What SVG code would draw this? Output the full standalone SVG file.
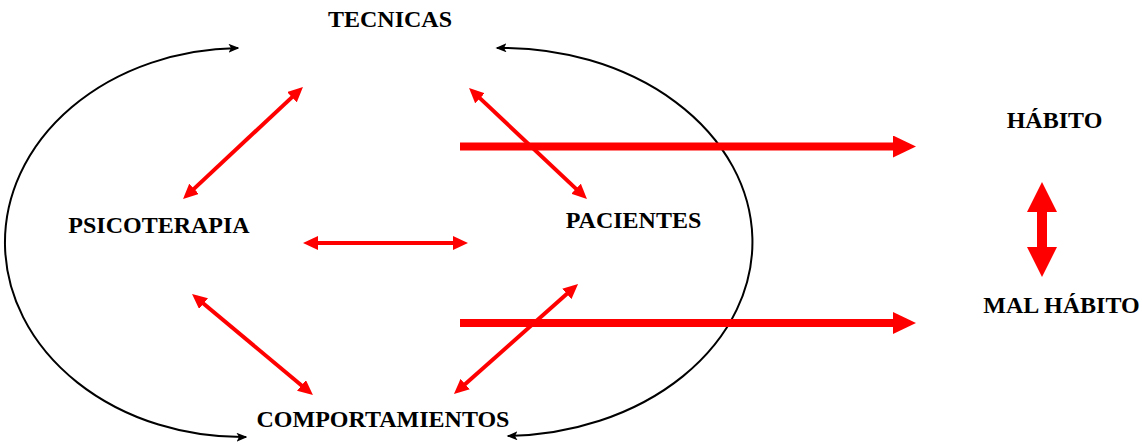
<svg xmlns="http://www.w3.org/2000/svg" width="1142" height="446" viewBox="0 0 1142 446">
<style>
.lbl{font-family:"Liberation Serif","Times New Roman",serif;font-weight:bold;font-size:24px;fill:#000;text-anchor:middle}
.thin{stroke:#ff0000;stroke-width:4;fill:none;marker-start:url(#rh);marker-end:url(#rh)}
.thick{stroke:#ff0000;stroke-width:8;fill:none;marker-end:url(#bh)}
.arc{stroke:#000;stroke-width:2;fill:none;marker-start:url(#kh);marker-end:url(#kh)}
</style>
<defs>
<marker id="rh" markerUnits="userSpaceOnUse" viewBox="0 0 15 14" markerWidth="15" markerHeight="14" refX="10" refY="7" orient="auto-start-reverse"><path d="M0,0 L15,7 L0,14 z" fill="#ff0000"/></marker>
<marker id="bh" markerUnits="userSpaceOnUse" viewBox="0 0 23 22" markerWidth="23" markerHeight="22" refX="2" refY="11" orient="auto"><path d="M0,0 L23,11 L0,22 z" fill="#ff0000"/></marker>
<marker id="vh" markerUnits="userSpaceOnUse" viewBox="0 0 30 30" markerWidth="30" markerHeight="30" refX="2" refY="15" orient="auto-start-reverse"><path d="M0,0 L30,15 L0,30 z" fill="#ff0000"/></marker>
<marker id="kh" markerUnits="userSpaceOnUse" viewBox="0 0 11 9" markerWidth="11" markerHeight="9" refX="9.5" refY="4.5" orient="auto-start-reverse"><path d="M0,0 L11,4.5 L0,9 L2.5,4.5 z" fill="#000"/></marker>
</defs>
<g id="connectors">
<path class="arc" d="M238,48 A237,194.5 0 0 0 246,437"/>
<path class="arc" d="M497,48 A250,194 0 0 1 508,436"/>
<line class="thin" x1="299.3" y1="90.4" x2="186.7" y2="195.6"/>
<line class="thin" x1="472.7" y1="91.4" x2="583.3" y2="195.6"/>
<line class="thin" x1="308" y1="243" x2="463" y2="243"/>
<line class="thin" x1="195.9" y1="297.2" x2="309.1" y2="391.8"/>
<line class="thin" x1="574.3" y1="287.3" x2="457.7" y2="390.7"/>
<line class="thick" x1="460" y1="146.5" x2="895" y2="146.5"/>
<line class="thick" x1="460" y1="323" x2="895" y2="323"/>
<line x1="1042" y1="210" x2="1042" y2="249" stroke="#ff0000" stroke-width="10" marker-start="url(#vh)" marker-end="url(#vh)"/>
</g>
<g id="tecnicas"><text class="lbl" x="390" y="27">TECNICAS</text></g>
<g id="psicoterapia"><text class="lbl" x="159" y="233">PSICOTERAPIA</text></g>
<g id="pacientes"><text class="lbl" x="633.5" y="228">PACIENTES</text></g>
<g id="comportamientos"><text class="lbl" x="383" y="427">COMPORTAMIENTOS</text></g>
<g id="habito"><text class="lbl" x="1054.5" y="128">HÁBITO</text></g>
<g id="mal-habito"><text class="lbl" x="1061.5" y="313">MAL HÁBITO</text></g>
</svg>
